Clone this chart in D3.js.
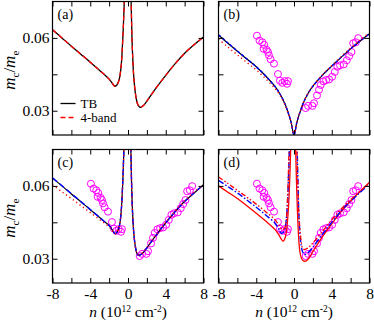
<!DOCTYPE html>
<html><head><meta charset="utf-8">
<script src="https://cdn.jsdelivr.net/npm/d3@7"></script>
<style>
html,body{margin:0;padding:0;background:#fff;}
svg, svg text{font-family:'Liberation Serif','Times New Roman',Times,serif;}
</style></head>
<body>
<svg id="chart" width="374" height="323"></svg>
<script>
// ---------- axis ticks ----------
const xTicks = [-8,-6,-4,-2,0,2,4,6,8];
const xTickLabels = ["-8","","-4","","0","","4","","8"];
const yTicks = [0.03,0.045,0.06];
const yTickLabels = ["0.03","","0.06"];
const panelLabels = ["(a)","(b)","(c)","(d)"];
const legendLabels = ["TB","4-band"];

// ---------- panel (a): TB and 4-band ----------
const aTB_nL = [-8,-7,-6,-5,-4,-3,-2.5,-2,-1.7,-1.4,-1.2,-1.0,-0.85,-0.7,-0.6,-0.5,-0.42,-0.36];
const aTB_mL = [0.0634,0.0600,0.0566,0.0533,0.0500,0.0466,0.0449,0.0430,0.0415,0.0401,0.0405,0.0420,0.0445,0.0495,0.0560,0.0640,0.0720,0.0800];
const aTB_nR = [0.3,0.36,0.42,0.5,0.6,0.7,0.8,0.95,1.1,1.3,1.6,2,3,4,5,6,7,8];
const aTB_mR = [0.0800,0.0700,0.0600,0.0520,0.0445,0.0400,0.0367,0.0336,0.0321,0.0314,0.0320,0.0340,0.0395,0.0446,0.0494,0.0537,0.0572,0.0604];
const a4b_mL = [0.0634,0.0600,0.0566,0.0533,0.0500,0.0466,0.0449,0.0430,0.0415,0.0401,0.0405,0.0420,0.0445,0.0495,0.0560,0.0640,0.0720,0.0800];
const a4b_mR = [0.0800,0.0700,0.0600,0.0520,0.0445,0.0400,0.0367,0.0336,0.0321,0.0314,0.0320,0.0340,0.0395,0.0446,0.0494,0.0537,0.0572,0.0604];

// ---------- panel (b): gapless ----------
const b_n = [-8,-7,-6,-5,-4,-3,-2,-1.5,-1,-0.6,-0.3,0,0.3,0.6,1,1.5,2,3,4,5,6,7,8];
const bBlack_m = [0.0612,0.0578,0.0545,0.0513,0.0481,0.0443,0.0399,0.0370,0.0332,0.0290,0.0252,0.0200,0.0252,0.0290,0.0333,0.0372,0.0401,0.0446,0.0484,0.0520,0.0555,0.0587,0.0617];
const bBlue_m  = [0.0613,0.0579,0.0546,0.0514,0.0481,0.0443,0.0399,0.0370,0.0332,0.0290,0.0252,0.0200,0.0252,0.0290,0.0333,0.0372,0.0401,0.0446,0.0484,0.0520,0.0555,0.0587,0.0617];
const bRed_m   = [0.0595,0.0562,0.0530,0.0499,0.0468,0.0432,0.0391,0.0364,0.0328,0.0288,0.0251,0.0200,0.0252,0.0291,0.0334,0.0373,0.0402,0.0447,0.0486,0.0523,0.0558,0.0591,0.0622];

// ---------- panel (c) ----------
const c_nL = [-8,-7,-6,-5,-4,-3,-2.5,-2,-1.7,-1.4,-1.2,-1.0,-0.85,-0.72,-0.62,-0.53,-0.46,-0.40];
const cBlack_mL = [0.0632,0.0600,0.0567,0.0535,0.0502,0.0470,0.0453,0.0437,0.0421,0.0404,0.0407,0.0422,0.0448,0.0495,0.0560,0.0640,0.0720,0.0800];
const cBlue_mL  = [0.0633,0.0601,0.0568,0.0536,0.0503,0.0470,0.0453,0.0437,0.0421,0.0404,0.0407,0.0422,0.0448,0.0495,0.0560,0.0640,0.0720,0.0800];
const cRed_mL   = [0.0605,0.0576,0.0548,0.0519,0.0490,0.0461,0.0447,0.0432,0.0418,0.0403,0.0406,0.0421,0.0447,0.0495,0.0560,0.0640,0.0720,0.0800];
const c_nR = [0.28,0.33,0.38,0.45,0.55,0.65,0.78,0.92,1.06,1.3,1.6,2,3,4,5,6,7,8];
const cBlack_mR = [0.0800,0.0700,0.0610,0.0520,0.0440,0.0390,0.0350,0.0325,0.0315,0.0316,0.0325,0.0345,0.0398,0.0448,0.0494,0.0536,0.0571,0.0605];
const cBlue_mR  = [0.0800,0.0700,0.0610,0.0520,0.0440,0.0390,0.0350,0.0325,0.0315,0.0316,0.0325,0.0345,0.0398,0.0448,0.0494,0.0536,0.0571,0.0605];
const cRed_mR   = [0.0800,0.0700,0.0610,0.0520,0.0440,0.0390,0.0350,0.0326,0.0317,0.0318,0.0327,0.0347,0.0400,0.0450,0.0496,0.0538,0.0574,0.0608];

// ---------- panel (d) ----------
const dRedS_nL = [-8,-7,-6,-5,-4,-3,-2,-1.6,-1.35,-1.2,-1.05,-0.9,-0.75,-0.62,-0.52,-0.43,-0.36,-0.30];
const dRedS_mL = [0.0600,0.0574,0.0548,0.0518,0.0487,0.0455,0.0420,0.0398,0.0381,0.0373,0.0376,0.0392,0.0430,0.0490,0.0560,0.0650,0.0740,0.0820];
const dRedS_nR = [0.12,0.18,0.24,0.3,0.42,0.52,0.62,0.78,1.0,1.3,1.6,2,3,4,5,6,7,8];
const dRedS_mR = [0.0820,0.0740,0.0650,0.0570,0.0440,0.0370,0.0330,0.0303,0.0291,0.0291,0.0303,0.0329,0.0390,0.0444,0.0494,0.0538,0.0577,0.0615];
const dBlue_nL = [-8,-7,-6,-5,-4,-3,-2,-1.6,-1.35,-1.15,-0.95,-0.8,-0.68,-0.58,-0.50,-0.45];
const dBlue_mL = [0.0623,0.0597,0.0571,0.0542,0.0512,0.0480,0.0446,0.0421,0.0405,0.0408,0.0425,0.0470,0.0540,0.0640,0.0740,0.0820];
const dBlue_nR = [0.3,0.36,0.42,0.5,0.6,0.75,0.9,1.1,1.4,2,3,4,5,6,7,8];
const dBlue_mR = [0.0820,0.0720,0.0620,0.0500,0.0420,0.0355,0.0330,0.0318,0.0322,0.0348,0.0400,0.0450,0.0497,0.0537,0.0573,0.0608];
const dRedD_nL = [-8,-7,-6,-5,-4,-3,-2,-1.5,-1.25,-1.0,-0.85,-0.72,-0.62,-0.55,-0.50];
const dRedD_mL = [0.0637,0.0610,0.0582,0.0554,0.0525,0.0494,0.0460,0.0432,0.0420,0.0425,0.0450,0.0520,0.0620,0.0720,0.0800];
const dRedD_nR = [0.28,0.35,0.42,0.5,0.6,0.75,0.9,1.1,1.5,2,3,4,5,6,7,8];
const dRedD_mR = [0.0800,0.0680,0.0580,0.0500,0.0435,0.0375,0.0345,0.0338,0.0345,0.0365,0.0412,0.0460,0.0505,0.0543,0.0578,0.0612];

// ---------- experiment (circles), panels b, c, d ----------
const expN = [-3.93,-3.65,-3.36,-3.15,-3.22,-2.90,-2.76,-2.65,-2.48,-2.12,-1.70,-1.49,-1.24,-0.99,-0.74,-0.64,
              1.24,1.49,1.95,2.12,2.44,2.65,2.83,3.12,3.40,3.72,4.04,4.32,4.60,4.88,5.27,5.59,5.84,6.09,6.27,6.55,6.80];
const expM = [0.0609,0.0589,0.0582,0.0571,0.0555,0.0551,0.0542,0.0528,0.0512,0.0494,0.0451,0.0424,0.0415,0.0422,0.0411,0.0422,
              0.0311,0.0320,0.0320,0.0331,0.0363,0.0386,0.0406,0.0421,0.0426,0.0429,0.0440,0.0460,0.0481,0.0487,0.0491,0.0508,0.0525,0.0542,0.0578,0.0582,0.0599];

// ---------- layout ----------
const FONT = "'Liberation Serif','Times New Roman',Times,serif";
const svg = d3.select("#chart");
const PW = 151, PH = 133.5;
const colX = [52.5, 218.5];
const rowY = [1.5, 149.5];
const x = d3.scaleLinear().domain([-8,8]).range([0,PW]);
const y = d3.scaleLinear().domain([0.02,0.075]).range([PH,0]);
const zip = (ns, ms) => ns.map((n,i)=>[n, ms[i]]);
const line = d3.line().x(d=>x(d[0])).y(d=>y(d[1])).curve(d3.curveCatmullRom.alpha(0.5));

const RED="#ff0000", BLUE="#0000ff", BLACK="#000000", MAG="#ff00ff";

const panels = [
  {col:0,row:0,label:panelLabels[0],exp:false,curves:[
    {segs:[zip(aTB_nL,aTB_mL),zip(aTB_nR,aTB_mR)],color:BLACK,dash:null,w:1.3},
    {segs:[zip(aTB_nL,a4b_mL),zip(aTB_nR,a4b_mR)],color:RED,dash:"5,3",w:1.3}
  ]},
  {col:1,row:0,label:panelLabels[1],exp:true,curves:[
    {segs:[zip(b_n,bBlack_m)],color:BLACK,dash:null,w:1.2},
    {segs:[zip(b_n,bBlue_m)],color:BLUE,dash:"3,2",w:1.4},
    {segs:[zip(b_n,bRed_m)],color:RED,dash:"1.2,3",w:1.4}
  ]},
  {col:0,row:1,label:panelLabels[2],exp:true,curves:[
    {segs:[zip(c_nL,cBlack_mL),zip(c_nR,cBlack_mR)],color:BLACK,dash:null,w:1.2},
    {segs:[zip(c_nL,cBlue_mL),zip(c_nR,cBlue_mR)],color:BLUE,dash:"6,3",w:1.4},
    {segs:[zip(c_nL,cRed_mL),zip(c_nR,cRed_mR)],color:RED,dash:"1.2,3",w:1.4}
  ]},
  {col:1,row:1,label:panelLabels[3],exp:true,curves:[
    {segs:[zip(dRedS_nL,dRedS_mL),zip(dRedS_nR,dRedS_mR)],color:RED,dash:null,w:1.3},
    {segs:[zip(dBlue_nL,dBlue_mL),zip(dBlue_nR,dBlue_mR)],color:BLUE,dash:"6,2,1.5,2",w:1.4},
    {segs:[zip(dRedD_nL,dRedD_mL),zip(dRedD_nR,dRedD_mR)],color:RED,dash:"5,2,1.5,2,1.5,2",w:1.3}
  ]}
];

panels.forEach((p,pi)=>{
  const g = svg.append("g").attr("transform",`translate(${colX[p.col]},${rowY[p.row]})`);
  const cid = "clip"+pi;
  g.append("clipPath").attr("id",cid).append("rect").attr("width",PW).attr("height",PH);
  const plot = g.append("g").attr("clip-path",`url(#${cid})`);

  if(p.exp){
    plot.selectAll("circle").data(zip(expN,expM)).join("circle")
      .attr("cx",d=>x(d[0])).attr("cy",d=>y(d[1])).attr("r",3.5)
      .attr("fill","none").attr("stroke",MAG).attr("stroke-width",1);
  }
  p.curves.forEach(c=>{
    c.segs.forEach(s=>{
      plot.append("path").attr("d",line(s)).attr("fill","none")
        .attr("stroke",c.color).attr("stroke-width",c.w)
        .attr("stroke-dasharray",c.dash);
    });
  });

  // axes (ticks inward)
  const bottom = d3.axisBottom(x).tickValues(xTicks).tickSizeInner(-5).tickSizeOuter(0).tickPadding(5)
    .tickFormat((d,i)=> p.row===1 ? xTickLabels[i] : "");
  const top = d3.axisTop(x).tickValues(xTicks).tickSizeInner(-5).tickSizeOuter(0).tickFormat("");
  const left = d3.axisLeft(y).tickValues(yTicks).tickSizeInner(-5).tickSizeOuter(0).tickPadding(3)
    .tickFormat((d,i)=> p.col===0 ? yTickLabels[i] : "");
  const right = d3.axisRight(y).tickValues(yTicks).tickSizeInner(-5).tickSizeOuter(0).tickFormat("");
  [[bottom,`translate(0,${PH})`],[top,"translate(0,0)"],[left,"translate(0,0)"],[right,`translate(${PW},0)`]].forEach(([ax,tr])=>{
    const a = g.append("g").attr("transform",tr).call(ax).attr("font-family",FONT);
    a.select(".domain").remove();
    a.selectAll("line").attr("stroke","#000").attr("stroke-width",1);
    a.selectAll("text").attr("fill","#000").attr("font-size",15.5).attr("font-family",FONT);
  });
  g.append("rect").attr("width",PW).attr("height",PH).attr("fill","none").attr("stroke","#000").attr("stroke-width",1.2);

  g.append("text").attr("x",5).attr("y",17).attr("font-size",14).attr("font-family",FONT).text(p.label);

  // x label
  if(p.row===1){
    const t = g.append("text").attr("x",PW/2).attr("y",PH+33.5).attr("text-anchor","middle")
      .attr("font-size",15.5).attr("font-family",FONT);
    t.append("tspan").attr("font-style","italic").text("n");
    t.append("tspan").text(" (10");
    t.append("tspan").attr("font-size",9.5).attr("dy",-5).text("12");
    t.append("tspan").attr("dy",5).text(" cm");
    t.append("tspan").attr("font-size",9.5).attr("dy",-5).text("-2");
    t.append("tspan").attr("dy",5).text(")");
  }
  // y label
  if(p.col===0){
    const t = g.append("text").attr("transform",`translate(${-37.5},${PH/2+2}) rotate(-90)`)
      .attr("text-anchor","middle").attr("font-size",17).attr("font-family",FONT);
    t.append("tspan").attr("font-style","italic").text("m");
    t.append("tspan").attr("font-size",11).attr("dy",4).text("c");
    t.append("tspan").attr("dy",-4).text("/");
    t.append("tspan").attr("font-style","italic").text("m");
    t.append("tspan").attr("font-size",11).attr("dy",4).text("e");
  }
  // legend in (a)
  if(pi===0){
    const lg = g.append("g");
    const items = [{c:BLACK,dash:null,yy:102},{c:RED,dash:"5,3",yy:116}];
    items.forEach((it,i)=>{
      lg.append("line").attr("x1",8).attr("x2",23).attr("y1",it.yy).attr("y2",it.yy)
        .attr("stroke",it.c).attr("stroke-width",1.3).attr("stroke-dasharray",it.dash);
      lg.append("text").attr("x",28).attr("y",it.yy+4.5).attr("font-size",13).attr("font-family",FONT).text(legendLabels[i]);
    });
  }
});
</script>
</body></html>
